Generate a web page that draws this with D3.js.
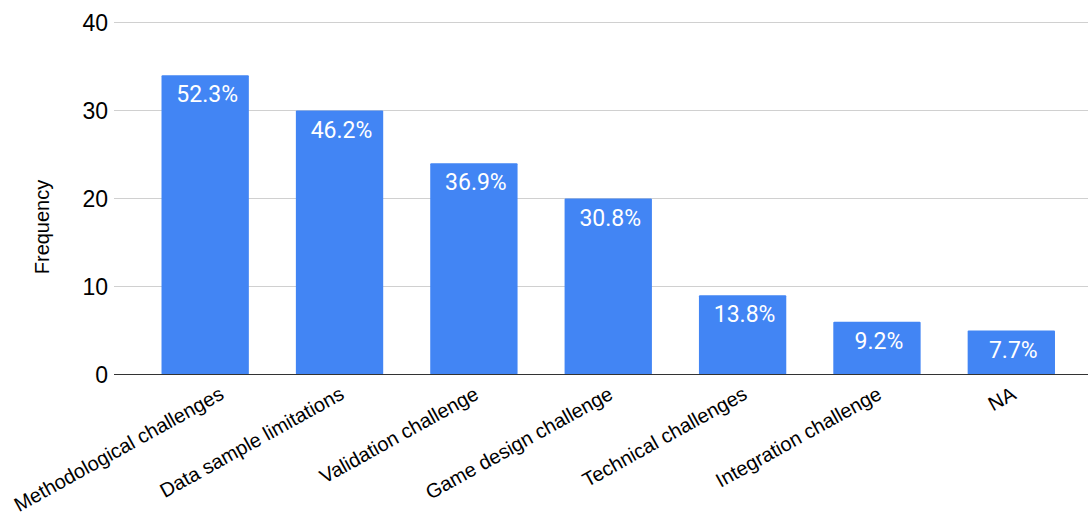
<!DOCTYPE html>
<html>
<head>
<meta charset="utf-8">
<script src="https://cdnjs.cloudflare.com/ajax/libs/d3/7.8.5/d3.min.js"></script>
<style>
  body { margin: 0; background: #fff; }
  svg { display: block; }
</style>
</head>
<body>
<svg id="chart" width="1092" height="515"></svg>
<script>
// data
var categories = ["Methodological challenges", "Data sample limitations", "Validation challenge",
  "Game design challenge", "Technical challenges", "Integration challenge", "NA"];
var frequency = [34, 30, 24, 20, 9, 6, 5];
var percentLabels = ["52.3%", "46.2%", "36.9%", "30.8%", "13.8%", "9.2%", "7.7%"];
var yTicks = [0, 10, 20, 30, 40];

var svg = d3.select("#chart");

var x = d3.scaleBand()
  .domain(categories)
  .range([138, 1078.5])
  .paddingInner(0.35)
  .paddingOuter(0.175);

var y = d3.scaleLinear().domain([0, 40]).range([374.5, 22.5]);

// gridlines
svg.append("g")
  .selectAll("line")
  .data(yTicks.filter(function(d) { return d > 0; }))
  .enter().append("line")
  .attr("x1", 114).attr("x2", 1088)
  .attr("y1", function(d) { return y(d); })
  .attr("y2", function(d) { return y(d); })
  .attr("stroke", "#d0d0d0")
  .attr("stroke-width", 1);

// y tick labels
svg.append("g")
  .selectAll("text")
  .data(yTicks)
  .enter().append("text")
  .attr("x", 108)
  .attr("y", function(d) { return y(d); })
  .attr("dy", "0.36em")
  .attr("text-anchor", "end")
  .style("font-family", "Arial, 'Liberation Sans', sans-serif")
  .style("font-size", "23px")
  .attr("fill", "#000")
  .text(function(d) { return d; });

// y axis title
svg.append("text")
  .attr("transform", "translate(49,227) rotate(-90)")
  .attr("text-anchor", "middle")
  .style("font-family", "Arial, 'Liberation Sans', sans-serif")
  .style("font-size", "20px")
  .text("Frequency");

// bars
var bars = svg.append("g");
bars.selectAll("rect")
  .data(frequency)
  .enter().append("rect")
  .attr("x", function(d, i) { return x(categories[i]); })
  .attr("y", function(d) { return y(d); })
  .attr("width", x.bandwidth())
  .attr("height", function(d) { return y(0) - y(d); })
  .attr("rx", 1)
  .attr("fill", "#4285f4");

// percentage labels inside bars
bars.selectAll("text")
  .data(frequency)
  .enter().append("text")
  .attr("x", function(d, i) { return x(categories[i]) + x.bandwidth() / 2 + 2; })
  .attr("y", function(d) { return y(d) + 27; })
  .attr("text-anchor", "middle")
  .style("font-family", "Roboto, Arial, sans-serif")
  .style("font-size", "23px")
  .attr("fill", "#fff")
  .text(function(d, i) { return percentLabels[i]; });

// baseline
svg.append("line")
  .attr("x1", 114).attr("x2", 1088)
  .attr("y1", y(0)).attr("y2", y(0))
  .attr("stroke", "#333")
  .attr("stroke-width", 1.2);

// category labels, slanted; pushed right if they would run off the left edge
var angle = 29;
var cosA = Math.cos(angle * Math.PI / 180);
svg.append("g")
  .selectAll("text")
  .data(categories)
  .enter().append("text")
  .attr("text-anchor", "end")
  .style("font-family", "Arial, 'Liberation Sans', sans-serif")
  .style("font-size", "20px")
  .attr("fill", "#000")
  .text(function(d) { return d; })
  .attr("transform", function(d) {
    var ax = x(d) + x.bandwidth() / 2 + 6;
    var start = ax - this.getComputedTextLength() * cosA;
    if (start < 19) ax += 19 - start;
    return "translate(" + ax + ",398) rotate(" + (-angle) + ")";
  });
</script>
</body>
</html>
